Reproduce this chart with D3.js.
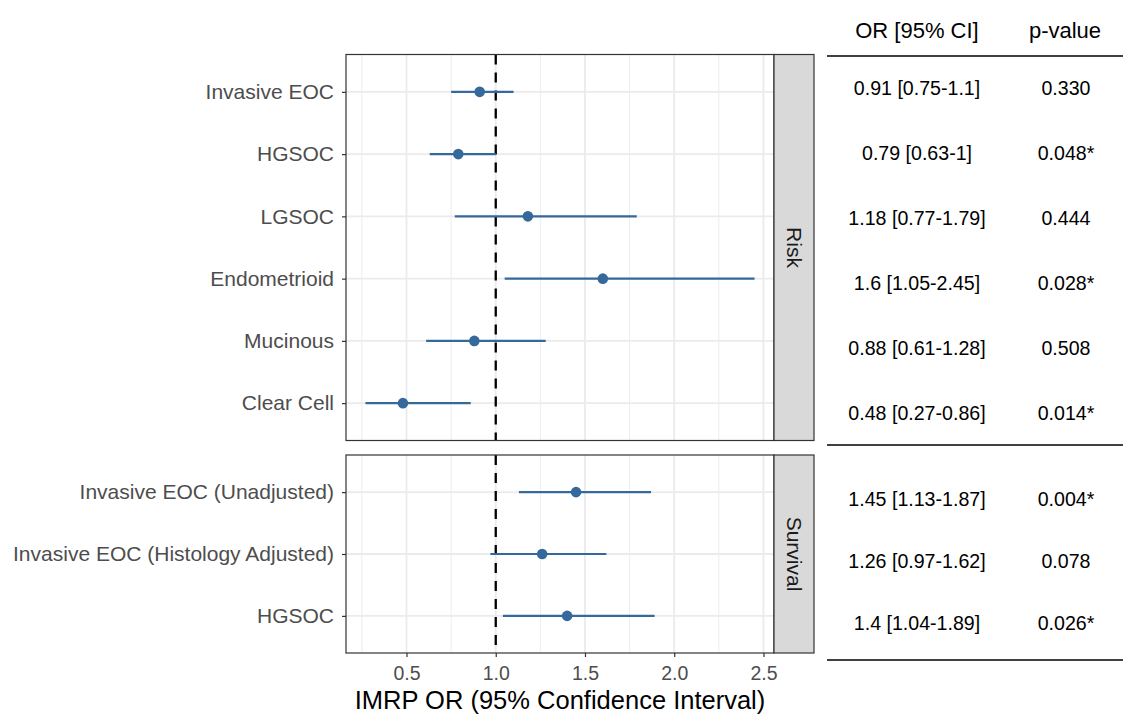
<!DOCTYPE html>
<html>
<head>
<meta charset="utf-8">
<script src="https://cdn.jsdelivr.net/npm/d3@7"></script>
<style>
  body { margin: 0; background: #fff; }
  text { font-family: "Liberation Sans", Arial, sans-serif; }
</style>
</head>
<body>
<script>
// data
const riskLabels = ["Invasive EOC", "HGSOC", "LGSOC", "Endometrioid", "Mucinous", "Clear Cell"];
const riskOR = [0.91, 0.79, 1.18, 1.6, 0.88, 0.48];
const riskLo = [0.75, 0.63, 0.77, 1.05, 0.61, 0.27];
const riskHi = [1.1, 1.0, 1.79, 2.45, 1.28, 0.86];
const riskCI = ["0.91 [0.75-1.1]", "0.79 [0.63-1]", "1.18 [0.77-1.79]", "1.6 [1.05-2.45]", "0.88 [0.61-1.28]", "0.48 [0.27-0.86]"];
const riskP = ["0.330", "0.048*", "0.444", "0.028*", "0.508", "0.014*"];

const survLabels = ["Invasive EOC (Unadjusted)", "Invasive EOC (Histology Adjusted)", "HGSOC"];
const survOR = [1.45, 1.26, 1.4];
const survLo = [1.13, 0.97, 1.04];
const survHi = [1.87, 1.62, 1.89];
const survCI = ["1.45 [1.13-1.87]", "1.26 [0.97-1.62]", "1.4 [1.04-1.89]"];
const survP = ["0.004*", "0.078", "0.026*"];

const xTicks = [0.5, 1.0, 1.5, 2.0, 2.5];

const W = 1123, H = 714;
const svg = d3.select("body").append("svg").attr("width", W).attr("height", H);

const blue = "#35699C";
const left = 346, right = 774, stripW = 40;

const lo = d3.min(riskLo.concat(survLo)), hi = d3.max(riskHi.concat(survHi));
const pad = (hi - lo) * 0.05;
const x = d3.scaleLinear().domain([lo - pad, hi + pad]).range([left, right]);

const panels = [
  {name: "Risk", labels: riskLabels, or: riskOR, lo: riskLo, hi: riskHi, ci: riskCI, p: riskP, top: 54.5, bottom: 440.5, tTop: 88, tBot: 413},
  {name: "Survival", labels: survLabels, or: survOR, lo: survLo, hi: survHi, ci: survCI, p: survP, top: 455, bottom: 653, tTop: 499, tBot: 623}
];

// minor breaks
const minor = [0.25, 0.75, 1.25, 1.75, 2.25].filter(v => x(v) > left && x(v) < right);

panels.forEach(pn => {
  const y = d3.scalePoint().domain(pn.labels).range([pn.top, pn.bottom]).padding(0.6);
  const g = svg.append("g");

  // grid
  g.selectAll(".minor").data(minor).enter().append("line")
    .attr("x1", d => x(d)).attr("x2", d => x(d)).attr("y1", pn.top).attr("y2", pn.bottom)
    .attr("stroke", "#EBEBEB").attr("stroke-width", 0.9);
  g.selectAll(".major").data(xTicks).enter().append("line")
    .attr("x1", d => x(d)).attr("x2", d => x(d)).attr("y1", pn.top).attr("y2", pn.bottom)
    .attr("stroke", "#EBEBEB").attr("stroke-width", 1.8);
  g.selectAll(".hgrid").data(pn.labels).enter().append("line")
    .attr("x1", left).attr("x2", right).attr("y1", d => y(d)).attr("y2", d => y(d))
    .attr("stroke", "#EBEBEB").attr("stroke-width", 1.8);

  // reference line
  g.append("line").attr("x1", x(1)).attr("x2", x(1)).attr("y1", pn.top).attr("y2", pn.bottom)
    .attr("stroke", "#000").attr("stroke-width", 2.3).attr("stroke-dasharray", "10,8");

  // CI lines and points
  g.selectAll(".ci").data(pn.labels).enter().append("line")
    .attr("x1", (d, i) => x(pn.lo[i])).attr("x2", (d, i) => x(pn.hi[i]))
    .attr("y1", d => y(d)).attr("y2", d => y(d))
    .attr("stroke", blue).attr("stroke-width", 2.2);
  g.selectAll(".pt").data(pn.labels).enter().append("circle")
    .attr("cx", (d, i) => x(pn.or[i])).attr("cy", d => y(d)).attr("r", 5.3)
    .attr("fill", blue);

  // panel border
  g.append("rect").attr("x", left).attr("y", pn.top).attr("width", right - left).attr("height", pn.bottom - pn.top)
    .attr("fill", "none").attr("stroke", "#333").attr("stroke-width", 1.2);

  // strip
  g.append("rect").attr("x", right).attr("y", pn.top).attr("width", stripW).attr("height", pn.bottom - pn.top)
    .attr("fill", "#D9D9D9").attr("stroke", "#333").attr("stroke-width", 1.2);
  g.append("text")
    .attr("transform", `translate(${right + stripW / 2},${(pn.top + pn.bottom) / 2}) rotate(90)`)
    .attr("text-anchor", "middle").attr("dominant-baseline", "central")
    .attr("fill", "#1A1A1A").style("font-size", "21px").text(pn.name);

  // y axis
  const ya = svg.append("g").attr("transform", `translate(${left},0)`)
    .call(d3.axisLeft(y).tickSize(4).tickPadding(8));
  ya.select(".domain").remove();
  ya.selectAll(".tick line").attr("stroke", "#333").attr("stroke-width", 1.2);
  ya.selectAll(".tick text").attr("fill", "#4D4D4D").style("font-size", "21px")
    .style("font-family", '"Liberation Sans", Arial, sans-serif');

  // table rows
  const ty = d3.scalePoint().domain(pn.labels).range([pn.tTop, pn.tBot]);
  const tg = svg.append("g");
  tg.selectAll(".ci").data(pn.labels).enter().append("text")
    .attr("x", 917).attr("y", d => ty(d)).attr("text-anchor", "middle").attr("dominant-baseline", "central")
    .attr("fill", "#000").style("font-size", "19.6px").text((d, i) => pn.ci[i]);
  tg.selectAll(".p").data(pn.labels).enter().append("text")
    .attr("x", 1066).attr("y", d => ty(d)).attr("text-anchor", "middle").attr("dominant-baseline", "central")
    .attr("fill", "#000").style("font-size", "19.6px").text((d, i) => pn.p[i]);
});

// x axis
const xa = svg.append("g").attr("transform", `translate(0,${panels[1].bottom})`)
  .call(d3.axisBottom(x).tickValues(xTicks).tickFormat(d3.format(".1f")).tickSize(4).tickPadding(9));
xa.select(".domain").remove();
xa.selectAll(".tick line").attr("stroke", "#333").attr("stroke-width", 1.2);
xa.selectAll(".tick text").attr("fill", "#4D4D4D").style("font-size", "19.5px")
  .style("font-family", '"Liberation Sans", Arial, sans-serif');

svg.append("text").attr("x", (left + right) / 2).attr("y", 708.5).attr("text-anchor", "middle")
  .attr("fill", "#000").style("font-size", "25.5px").text("IMRP OR (95% Confidence Interval)");

// table header and rules
svg.append("text").attr("x", 917).attr("y", 38).attr("text-anchor", "middle")
  .style("font-size", "22px").text("OR [95% CI]");
svg.append("text").attr("x", 1065).attr("y", 38).attr("text-anchor", "middle")
  .style("font-size", "22px").text("p-value");
[56, 445, 660].forEach(yy => {
  svg.append("line").attr("x1", 827).attr("x2", W).attr("y1", yy).attr("y2", yy)
    .attr("stroke", "#000").attr("stroke-width", 1.5);
});
</script>
</body>
</html>
